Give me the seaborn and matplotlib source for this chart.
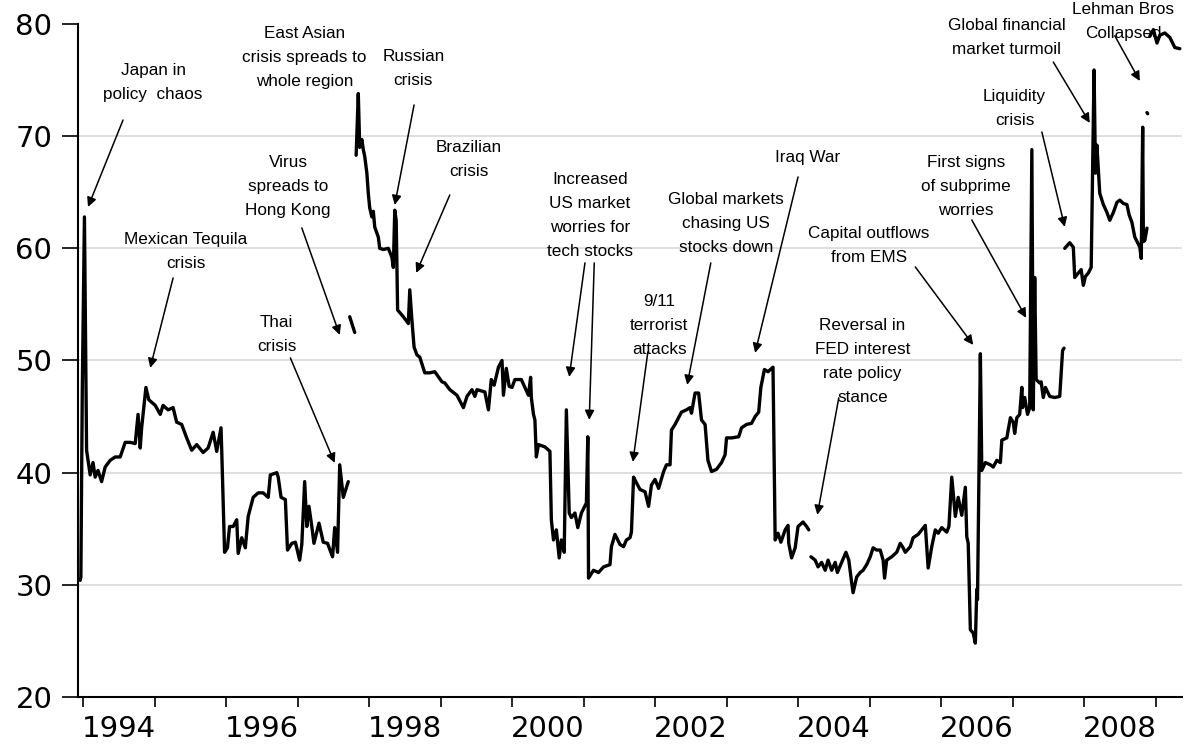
import numpy as np
import pandas as pd
import matplotlib
matplotlib.use("Agg")
import matplotlib.pyplot as plt
import seaborn as sns

# ---------------- data (decimal year, index value), broken into segments ----------------
seg1_year = [1993.96, 1993.97, 1993.99, 1994.02, 1994.05, 1994.10, 1994.14, 1994.17, 1994.21, 1994.26,
             1994.31, 1994.38, 1994.45, 1994.52, 1994.59, 1994.66, 1994.73, 1994.77, 1994.80, 1994.82,
             1994.88, 1994.92, 1995.01, 1995.08, 1995.12, 1995.19, 1995.26, 1995.31, 1995.38, 1995.45,
             1995.52, 1995.59, 1995.68, 1995.75, 1995.82, 1995.87, 1995.93, 1995.94, 1995.98, 1996.02,
             1996.05, 1996.10, 1996.15, 1996.17, 1996.22, 1996.27, 1996.31, 1996.38, 1996.45, 1996.52,
             1996.59, 1996.62, 1996.71, 1996.73, 1996.77, 1996.83, 1996.86, 1996.92, 1996.97, 1997.03,
             1997.06, 1997.10, 1997.13, 1997.16, 1997.20, 1997.23, 1997.30, 1997.36, 1997.42, 1997.49,
             1997.52, 1997.56, 1997.59, 1997.64, 1997.71]
seg1_value = [30.4, 30.7, 47.4, 62.8, 42.0, 39.8, 40.9, 39.6, 40.2, 39.2,
              40.5, 41.1, 41.4, 41.4, 42.7, 42.7, 42.6, 45.2, 42.2, 44.0,
              47.6, 46.5, 46.0, 45.2, 46.0, 45.6, 45.8, 44.5, 44.3, 43.1,
              42.0, 42.5, 41.8, 42.2, 43.6, 41.9, 44.0, 42.0, 32.9, 33.3,
              35.2, 35.2, 35.8, 32.8, 34.2, 33.3, 36.1, 37.8, 38.2, 38.2,
              37.8, 39.8, 40.0, 39.6, 37.8, 37.6, 33.1, 33.7, 33.8, 32.2,
              33.6, 39.2, 35.2, 37.0, 35.2, 33.7, 35.5, 33.8, 33.7, 32.5,
              35.1, 32.9, 40.7, 37.8, 39.2]

seg2_year = [1997.73, 1997.80]
seg2_value = [53.9, 52.5]

seg3_year = [1997.82, 1997.85, 1997.87, 1997.90, 1997.92, 1997.94, 1997.97, 1997.99, 1998.01, 1998.04,
             1998.06, 1998.08, 1998.13, 1998.15, 1998.20, 1998.27, 1998.32, 1998.34, 1998.36, 1998.38,
             1998.40, 1998.48, 1998.55, 1998.57, 1998.60, 1998.63, 1998.67, 1998.71, 1998.78, 1998.85,
             1998.92, 1999.02, 1999.06, 1999.13, 1999.23, 1999.32, 1999.37, 1999.44, 1999.48, 1999.51,
             1999.62, 1999.67, 1999.71, 1999.75, 1999.81, 1999.86, 1999.88, 1999.92, 1999.96, 2000.00,
             2000.04, 2000.13, 2000.18, 2000.23, 2000.26, 2000.27, 2000.30, 2000.32, 2000.34, 2000.37,
             2000.46, 2000.53, 2000.55, 2000.58, 2000.62, 2000.66, 2000.69, 2000.73, 2000.76, 2000.80,
             2000.83, 2000.88, 2000.92, 2000.97, 2001.04, 2001.06, 2001.07, 2001.14, 2001.21, 2001.28,
             2001.37, 2001.39, 2001.44, 2001.51, 2001.56, 2001.60, 2001.65, 2001.67, 2001.70, 2001.74,
             2001.79, 2001.86, 2001.91, 2001.95, 2002.00, 2002.05, 2002.12, 2002.16, 2002.21, 2002.23,
             2002.28, 2002.33, 2002.37, 2002.44, 2002.49, 2002.51, 2002.56, 2002.61, 2002.65, 2002.70,
             2002.74, 2002.79, 2002.86, 2002.93, 2002.98, 2003.00, 2003.07, 2003.17, 2003.21, 2003.28,
             2003.35, 2003.40, 2003.45, 2003.48, 2003.53, 2003.58, 2003.65, 2003.68, 2003.72, 2003.76,
             2003.82, 2003.86, 2003.87, 2003.91, 2003.96, 2004.00, 2004.07, 2004.12, 2004.15]
seg3_value = [68.3, 73.8, 69.0, 69.7, 68.8, 68.2, 66.7, 64.9, 63.6, 62.8,
              63.3, 61.9, 61.0, 60.0, 59.9, 60.0, 59.2, 58.3, 63.4, 62.5,
              54.5, 53.9, 53.3, 56.3, 53.6, 51.2, 50.5, 50.3, 48.9, 48.9,
              49.0, 48.1, 48.0, 47.4, 46.9, 45.8, 46.8, 47.4, 46.8, 47.4,
              47.2, 45.6, 48.3, 47.8, 49.4, 50.0, 46.9, 49.3, 47.7, 47.6,
              48.3, 48.3, 47.6, 46.9, 48.5, 46.7, 45.2, 44.7, 41.4, 42.5,
              42.3, 41.9, 35.8, 34.0, 34.9, 32.4, 34.0, 32.9, 45.6, 36.4,
              36.0, 36.4, 35.1, 36.4, 37.3, 43.2, 30.6, 31.3, 31.1, 31.6,
              31.8, 33.4, 34.5, 33.6, 33.4, 34.0, 34.2, 34.7, 39.6, 39.1,
              38.5, 38.3, 37.0, 38.9, 39.4, 38.6, 40.1, 40.7, 40.7, 43.8,
              44.3, 44.9, 45.4, 45.6, 45.8, 45.3, 47.1, 47.1, 44.7, 44.3,
              41.1, 40.1, 40.3, 40.9, 41.6, 43.1, 43.1, 43.2, 44.0, 44.3,
              44.4, 45.0, 45.4, 47.6, 49.2, 49.0, 49.4, 34.0, 34.6, 33.8,
              34.9, 35.3, 33.7, 32.4, 33.3, 35.2, 35.6, 35.2, 34.9]

seg4_year = [2004.18, 2004.24, 2004.28, 2004.33, 2004.38, 2004.42, 2004.47, 2004.52, 2004.55, 2004.61,
             2004.67, 2004.71, 2004.75, 2004.77, 2004.82, 2004.87, 2004.91, 2004.96, 2005.01, 2005.05,
             2005.10, 2005.15, 2005.19, 2005.21, 2005.24, 2005.31, 2005.38, 2005.43, 2005.47, 2005.50,
             2005.57, 2005.61, 2005.68, 2005.73, 2005.78, 2005.82, 2005.87, 2005.92, 2005.96, 2006.01,
             2006.08, 2006.11, 2006.15, 2006.20, 2006.24, 2006.29, 2006.34, 2006.36, 2006.38, 2006.41,
             2006.45, 2006.48, 2006.50, 2006.51, 2006.55, 2006.57, 2006.62, 2006.69, 2006.73, 2006.78,
             2006.83, 2006.85, 2006.92, 2006.97, 2007.01, 2007.03, 2007.06, 2007.10, 2007.13, 2007.14,
             2007.17, 2007.21, 2007.24, 2007.27, 2007.29, 2007.31, 2007.33, 2007.38, 2007.40, 2007.43,
             2007.46, 2007.52, 2007.59, 2007.66, 2007.70, 2007.72]
seg4_value = [32.5, 32.2, 31.6, 32.0, 31.3, 32.2, 31.3, 32.0, 31.1, 32.0,
              32.9, 32.2, 30.2, 29.3, 30.7, 31.1, 31.3, 31.8, 32.5, 33.3,
              33.1, 33.1, 32.2, 30.6, 32.2, 32.5, 32.9, 33.7, 33.3, 32.9,
              33.4, 34.2, 34.5, 34.9, 35.3, 31.5, 33.4, 34.9, 34.6, 35.1,
              34.7, 35.2, 39.6, 36.1, 37.8, 36.2, 38.7, 34.3, 33.7, 26.0,
              25.7, 24.8, 29.6, 28.7, 50.6, 40.2, 40.9, 40.7, 40.5, 41.1,
              40.9, 42.9, 43.1, 44.9, 44.5, 43.5, 44.9, 45.2, 47.6, 45.8,
              46.7, 45.2, 45.8, 68.8, 45.6, 57.4, 48.3, 48.0, 48.1, 46.7,
              47.6, 46.8, 46.7, 46.8, 50.9, 51.1]

seg5_year = [2007.73, 2007.80, 2007.85, 2007.87, 2007.92, 2007.96, 2007.99, 2008.02, 2008.06, 2008.10,
             2008.14, 2008.16, 2008.18, 2008.20, 2008.22, 2008.27, 2008.32, 2008.36, 2008.41, 2008.46,
             2008.50, 2008.55, 2008.60, 2008.63, 2008.67, 2008.71, 2008.75, 2008.78, 2008.80, 2008.82,
             2008.83, 2008.85, 2008.88]
seg5_value = [60.0, 60.5, 60.1, 57.4, 57.8, 58.1, 56.7, 57.5, 57.8, 58.3,
              75.9, 66.7, 69.2, 67.0, 64.9, 63.9, 63.2, 62.5, 63.2, 64.1,
              64.3, 64.0, 63.9, 63.0, 62.3, 61.0, 60.5, 60.1, 59.1, 70.8,
              60.6, 60.7, 61.8]

seg6_year = [2008.88, 2008.89]
seg6_value = [72.1, 72.0]

seg7_year = [2008.92, 2008.97, 2009.02, 2009.06, 2009.13, 2009.20, 2009.27, 2009.34]
seg7_value = [78.9, 79.5, 78.3, 79.0, 79.2, 78.8, 77.9, 77.8]

year_ticks = list(range(1994, 2010))
year_labels = ["1994", "1996", "1998", "2000", "2002", "2004", "2006", "2008"]
y_ticks = [20, 30, 40, 50, 60, 70, 80]

# annotations: text, text position, list of (arrow tail, arrow tip)
annotations = [
    ("Japan in\npolicy  chaos", (1994.98, 74.74), [((1994.56, 71.44), (1994.07, 63.69))]),
    ("Mexican Tequila\ncrisis", (1995.44, 59.68), [((1995.26, 57.36), (1994.94, 49.34))]),
    ("East Asian\ncrisis spreads to\nwhole region", (1997.10, 76.97), []),
    ("Virus\nspreads to\nHong Kong", (1996.87, 65.47), [((1997.06, 61.82), (1997.59, 52.28))]),
    ("Thai\ncrisis", (1996.71, 52.28), [((1996.90, 50.23), (1997.52, 40.87))]),
    ("Russian\ncrisis", (1998.62, 75.99), [((1998.63, 72.78), (1998.36, 63.87))]),
    ("Brazilian\ncrisis", (1999.40, 67.88), [((1999.13, 64.76), (1998.66, 57.81))]),
    ("Increased\nUS market\nworries for\ntech stocks", (2001.09, 62.89),
     [((2001.02, 58.70), (2000.80, 48.54)), ((2001.15, 58.70), (2001.08, 44.71))]),
    ("9/11\nterrorist\nattacks", (2002.06, 53.08), [((2001.90, 50.77), (2001.69, 40.96))]),
    ("Global markets\nchasing US\nstocks down", (2002.99, 62.17), [((2002.78, 58.70), (2002.45, 47.83))]),
    ("Iraq War", (2004.13, 68.06), [((2004.00, 66.36), (2003.40, 50.68))]),
    ("Reversal in\nFED interest\nrate policy\nstance", (2004.90, 49.88), [((2004.57, 46.67), (2004.27, 36.24))]),
    ("Capital outflows\nfrom EMS", (2004.99, 60.21), [((2005.64, 58.34), (2006.45, 51.39))]),
    ("First signs\nof subprime\nworries", (2006.35, 65.47), [((2006.43, 62.53), (2007.19, 53.80))]),
    ("Liquidity\ncrisis", (2007.03, 72.51), [((2007.41, 70.37), (2007.73, 61.91))]),
    ("Global financial\nmarket turmoil", (2006.92, 78.84), [((2007.57, 76.61), (2008.08, 71.18))]),
    ("Lehman Bros\nCollapsed", (2008.55, 80.22), [((2008.43, 78.95), (2008.78, 74.92))]),
]

# ---------------- build table ----------------
segments = [(seg1_year, seg1_value), (seg2_year, seg2_value), (seg3_year, seg3_value),
            (seg4_year, seg4_value), (seg5_year, seg5_value), (seg6_year, seg6_value),
            (seg7_year, seg7_value)]
frames = []
for i, (yr, val) in enumerate(segments):
    frames.append(pd.DataFrame({"year": yr, "value": val, "segment": i}))
df = pd.concat(frames, ignore_index=True)

# ---------------- plot ----------------
sns.set_style("white")
plt.rcParams["font.family"] = ["Liberation Sans", "DejaVu Sans"]

fig = plt.figure(figsize=(11.84, 7.49), dpi=100)
ax = fig.add_axes([78 / 1184, 52 / 749, (1182 - 78) / 1184, (697 - 24) / 749])

sns.lineplot(data=df, x="year", y="value", units="segment", estimator=None,
             color="black", linewidth=2.4, ax=ax, legend=False)

ax.set_xlim(1993.93, 2009.37)
ax.set_ylim(20, 80)

# grid
for gy in [30, 40, 50, 60, 70]:
    ax.axhline(gy, color="#d6d6d6", linewidth=1.1, zorder=0)

ax.set_xlabel("")
ax.set_ylabel("")

tick_font = dict(family="DejaVu Sans", size=21)

ax.set_yticks(y_ticks)
ax.set_yticklabels([str(v) for v in y_ticks], fontdict=tick_font)
ax.tick_params(axis="y", which="major", left=True, direction="out", length=11.5, width=1.2,
               pad=7, color="black", labelcolor="black")

ax.set_xticks(year_ticks)
ax.set_xticklabels([""] * len(year_ticks))
ax.set_xticks([int(l) + 0.5 for l in year_labels], minor=True)
ax.set_xticklabels(year_labels, minor=True, fontdict=tick_font)
ax.tick_params(axis="x", which="major", bottom=True, direction="out", length=7.5, width=1.2, color="black")
ax.tick_params(axis="x", which="minor", bottom=True, length=0, pad=13, labelcolor="black")

for s in ["top", "right"]:
    ax.spines[s].set_visible(False)
for s in ["left", "bottom"]:
    ax.spines[s].set_color("black")
    ax.spines[s].set_linewidth(1.5)

for text, pos, arrows in annotations:
    ax.text(pos[0], pos[1], text, ha="center", va="center", fontsize=12.3,
            linespacing=1.75, color="black", clip_on=False)
    for tail, tip in arrows:
        ax.annotate("", xy=tip, xytext=tail, xycoords="data", textcoords="data",
                    annotation_clip=False,
                    arrowprops=dict(arrowstyle="-|>", color="black", lw=1.1,
                                    mutation_scale=14, shrinkA=0, shrinkB=0))

fig.savefig("out.png", dpi=100)
